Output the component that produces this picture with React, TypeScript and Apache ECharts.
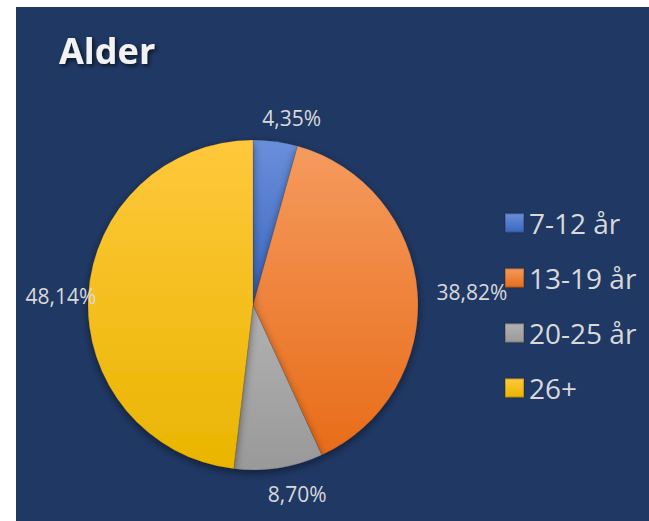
import React, { useEffect, useRef } from "react";
import * as echarts from "echarts";

const titleText = "Alder";
const categories = ["7-12 år", "13-19 år", "20-25 år", "26+"];
const values = [4.35, 38.82, 8.7, 48.14];

// gradient stops per slice: [top, bottom]
const sliceColors: [string, string][] = [
  ["#6A8FDA", "#3A66C0"],
  ["#F59A5E", "#E86C18"],
  ["#B2B2B2", "#999999"],
  ["#FFC83C", "#EAB500"],
];
// label nudges (dx, dy) from the default outside anchor
const labelNudges: [number, number][] = [
  [-21, -4],
  [-6, 1.5],
  [-19, 6],
  [33, 2],
];

export default function App() {
  const ref = useRef<HTMLDivElement>(null);
  useEffect(() => {
    if (!ref.current) return;
    const chart = echarts.init(ref.current, undefined, { renderer: "svg" });
    const grad = (c: [string, string]) =>
      new echarts.graphic.LinearGradient(0, 0, 0, 1, [
        { offset: 0, color: c[0] },
        { offset: 1, color: c[1] },
      ]);
    chart.setOption({
      animation: false,
      backgroundColor: "#ffffff",
      graphic: [
        {
          type: "rect",
          z: -10,
          shape: { x: 16, y: 7, width: 633, height: 514 },
          style: { fill: "#203864" },
          silent: true,
        },
      ],
      title: {
        text: titleText,
        left: 59,
        top: 32,
        padding: 0,
        textStyle: {
          color: "#F2F2F2",
          fontFamily: "Open Sans",
          fontWeight: 700,
          fontSize: 36,
          textShadowColor: "rgba(0,0,0,0.65)",
          textShadowBlur: 4,
          textShadowOffsetX: 2,
          textShadowOffsetY: 2,
        },
      },
      legend: {
        orient: "vertical",
        left: 504,
        top: 208,
        icon: "rect",
        itemWidth: 19,
        itemHeight: 19,
        itemGap: 25,
        padding: 0,
        textStyle: {
          color: "#D9D9D9",
          fontFamily: "Open Sans",
          fontSize: 28,
          lineHeight: 30,
          padding: [0, 0, 0, 0],
        },
        data: categories,
      },
      series: [
        {
          type: "pie",
          center: [253, 305],
          radius: 165,
          startAngle: 90,
          clockwise: true,
          avoidLabelOverlap: false,
          data: categories.map((name, i) => ({
            name,
            value: values[i],
            itemStyle: { color: grad(sliceColors[i]) },
          })),
          itemStyle: {
            borderColor: "rgba(30,30,30,0.25)",
            borderWidth: 0.5,
            shadowColor: "rgba(0,0,0,0.45)",
            shadowBlur: 8,
            shadowOffsetY: 3,
          },
          label: {
            show: true,
            position: "outside",
            color: "#D9D9D9",
            fontFamily: "Open Sans",
            fontSize: 21,
            formatter: (p: any) => p.value.toFixed(2).replace(".", ",") + "%",
          },
          labelLine: { show: false, length: 20, length2: 0 },
          labelLayout: (p: any) => ({
            dx: labelNudges[p.dataIndex][0],
            dy: labelNudges[p.dataIndex][1],
          }),
          emphasis: { disabled: true },
        },
      ],
    });
    return () => chart.dispose();
  }, []);
  return (
    <div
      ref={ref}
      style={{ position: "fixed", left: 0, top: 0, width: 649, height: 521 }}
    />
  );
}
